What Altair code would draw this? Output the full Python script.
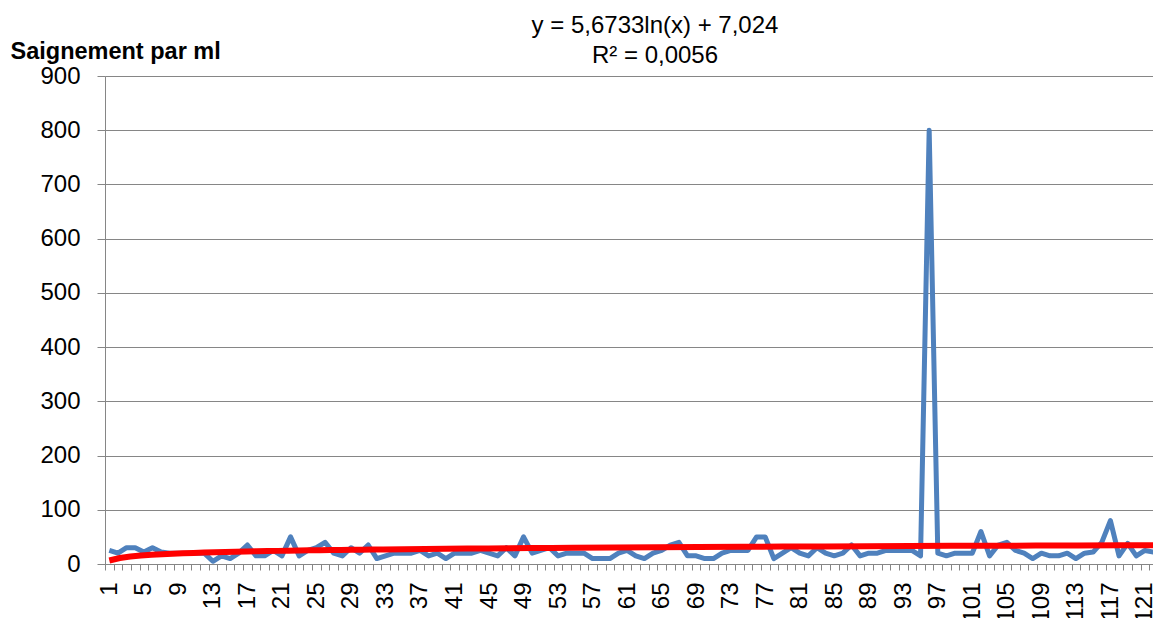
import altair as alt
import pandas as pd

# Saignement par ml, one value per sample (1..123)
values = [
    25, 20, 30, 30, 22, 30, 22, 20, 20, 20,
    20, 20, 5, 15, 10, 20, 35, 15, 15, 25,
    15, 50, 15, 25, 30, 40, 20, 15, 30, 20,
    35, 10, 15, 20, 20, 20, 25, 15, 20, 10,
    20, 20, 20, 25, 20, 15, 30, 15, 50, 20,
    25, 30, 15, 20, 20, 20, 10, 10, 10, 20,
    25, 15, 10, 20, 25, 35, 40, 15, 15, 10,
    10, 20, 25, 25, 25, 50, 50, 10, 20, 30,
    20, 15, 30, 20, 15, 20, 35, 15, 20, 20,
    25, 25, 25, 25, 15, 800, 20, 15, 20, 20,
    20, 60, 15, 35, 40, 25, 20, 10, 20, 15,
    15, 20, 10, 20, 22, 40, 80, 15, 38, 15,
    25, 22, 28,
]
samples = list(range(1, len(values) + 1))
y_ticks = [0, 100, 200, 300, 400, 500, 600, 700, 800, 900]
trend_label = ["y = 5,6733ln(x) + 7,024", "R² = 0,0056"]

df = pd.DataFrame({"x": samples, "y": values})

FONT = "Liberation Sans"
GRAY = "#868686"
FS = 24
n = len(values)
BAND = 8.63
X_RANGE = [0, round(n * BAND, 1)]

y_enc = alt.Y(
    "y:Q",
    scale=alt.Scale(domain=[0, 900], nice=False, zero=True),
    axis=alt.Axis(
        values=y_ticks,
        grid=True,
        gridColor=GRAY,
        gridWidth=1,
        domainColor=GRAY,
        tickColor=GRAY,
        tickSize=8,
        labelPadding=17,
        labelFont=FONT,
        labelFontSize=FS,
        labelColor="black",
        title="Saignement par ml",
        titleFont=FONT,
        titleFontSize=23.5,
        titleFontWeight="bold",
        titleColor="black",
        titleAngle=0,
        titleAlign="left",
        titleBaseline="alphabetic",
        titleX=-95,
        titleY=-18,
    ),
)

line = alt.Chart(df).mark_line(color="#4F81BD", strokeWidth=5, strokeJoin="round").encode(
    x=alt.X(
        "x:O",
        scale=alt.Scale(type="band", paddingInner=0, paddingOuter=0, range=X_RANGE),
        axis=alt.Axis(
            title=None,
            tickBand="extent",
            tickSize=6,
            tickColor=GRAY,
            domainColor=GRAY,
            labelAngle=270,
            labelFont=FONT,
            labelFontSize=FS,
            labelColor="black",
            labelPadding=12,
            labelOverlap=False,
            labelBound=False,
            labelExpr="(datum.value - 1) % 4 == 0 ? datum.label : ''",
            grid=False,
        ),
    ),
    y=y_enc,
)

trend = alt.Chart(df).transform_regression(
    "x", "y", method="log"
).mark_line(color="#FF0000", strokeWidth=6).encode(
    x=alt.X(
        "x:Q",
        scale=alt.Scale(domain=[0.5, n + 0.5], nice=False, zero=False, range=X_RANGE),
        axis=None,
    ),
    y=alt.Y("y:Q"),
)

chart = (
    alt.layer(line, trend)
    .resolve_scale(x="independent")
    .properties(
        width=1048,
        height=488,
        autosize=alt.AutoSizeParams(type="none"),
        padding={"left": 97, "top": 68, "right": 0, "bottom": 70},
        title=alt.Title(
            trend_label,
            anchor="middle",
            frame="group",
            dx=26,
            dy=3,
            offset=-26,
            font=FONT,
            fontSize=FS,
            fontWeight="normal",
            color="black",
            lineHeight=30,
        ),
    )
    .configure_view(stroke=None)
    .configure(background="white")
)

chart.save("out.html", embed_options={"renderer": "svg", "actions": False})
